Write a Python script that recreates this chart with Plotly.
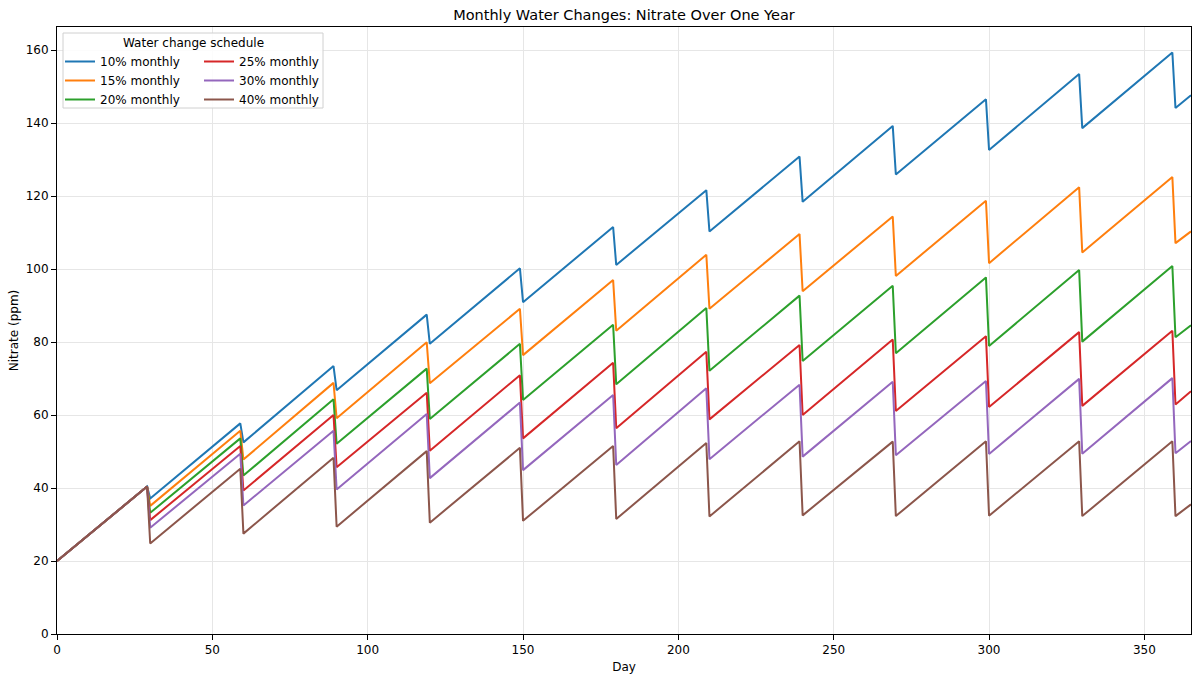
import plotly.graph_objects as go

# ---- Data ----
start_day = 0
start_value = 20.0
peak_days = [29, 59, 89, 119, 149, 179, 209, 239, 269, 299, 329, 359]
change_days = [30, 60, 90, 120, 150, 180, 210, 240, 270, 300, 330, 360]
end_day = 365

series_names = ["10% monthly", "15% monthly", "20% monthly",
                "25% monthly", "30% monthly", "40% monthly"]

peaks_10 = [40.4, 57.7, 73.4, 87.5, 100.2, 111.5, 121.6, 130.8, 139.2, 146.5, 153.4, 159.3]
troughs_10 = [37.1, 52.5, 66.8, 79.5, 90.9, 101.1, 110.3, 118.4, 125.9, 132.6, 138.6, 144.1]
end_10 = 147.6

peaks_15 = [40.4, 55.7, 68.8, 79.9, 89.1, 97.0, 103.9, 109.6, 114.4, 118.7, 122.4, 125.2]
troughs_15 = [35.1, 47.8, 59.1, 68.7, 76.4, 83.1, 89.1, 93.9, 98.1, 101.6, 104.5, 107.1]
end_15 = 110.3

peaks_20 = [40.4, 53.6, 64.3, 72.7, 79.5, 84.7, 89.3, 92.7, 95.4, 97.7, 99.7, 100.8]
troughs_20 = [33.2, 43.4, 52.1, 58.9, 64.1, 68.4, 72.1, 74.8, 76.9, 78.9, 80.1, 81.3]
end_20 = 84.6

peaks_25 = [40.4, 51.5, 60.0, 66.1, 70.9, 74.3, 77.3, 79.2, 80.7, 81.6, 82.7, 83.1]
troughs_25 = [31.2, 39.3, 45.7, 50.2, 53.6, 56.4, 58.8, 60.0, 61.1, 62.2, 62.5, 62.9]
end_25 = 66.5

peaks_30 = [40.4, 49.4, 55.7, 60.3, 63.4, 65.5, 67.3, 68.3, 69.1, 69.3, 69.9, 70.1]
troughs_30 = [29.1, 35.2, 39.6, 42.7, 44.9, 46.3, 47.9, 48.6, 49.0, 49.3, 49.4, 49.5]
end_30 = 52.9

peaks_40 = [40.4, 45.3, 48.3, 50.1, 51.0, 51.5, 52.3, 52.8, 52.7, 52.8, 52.8, 52.8]
troughs_40 = [24.8, 27.5, 29.4, 30.5, 31.0, 31.5, 32.2, 32.5, 32.3, 32.4, 32.3, 32.3]
end_40 = 35.5

x_ticks = [0, 50, 100, 150, 200, 250, 300, 350]
y_ticks = [0, 20, 40, 60, 80, 100, 120, 140, 160]

colors = ["#1f77b4", "#ff7f0e", "#2ca02c", "#d62728", "#9467bd", "#8c564b"]

series = [
    (peaks_10, troughs_10, end_10),
    (peaks_15, troughs_15, end_15),
    (peaks_20, troughs_20, end_20),
    (peaks_25, troughs_25, end_25),
    (peaks_30, troughs_30, end_30),
    (peaks_40, troughs_40, end_40),
]

# ---- Layout geometry (pixels) ----
W, H = 1200, 681
L, R, T, B = 57, 9, 27, 47
PW, PH = W - L - R, H - T - B


def px_x(px):
    return (px - L) / PW


def px_y(py):
    return (H - B - py) / PH


fig = go.Figure()

for i, ((pk, tr, en), name, col) in enumerate(zip(series, series_names, colors)):
    xs = [start_day]
    ys = [start_value]
    for d1, d2, v1, v2 in zip(peak_days, change_days, pk, tr):
        xs += [d1, d2]
        ys += [v1, v2]
    xs.append(end_day)
    ys.append(en)
    fig.add_trace(go.Scatter(
        x=xs, y=ys, mode="lines", name=name,
        line=dict(color=col, width=2),
        legend="legend" if i < 3 else "legend2",
    ))

font_family = "DejaVu Sans, Verdana, sans-serif"

axis_common = dict(
    showline=True, linecolor="#000000", linewidth=1, mirror=True,
    ticks="outside", ticklen=5, tickwidth=1, tickcolor="#000000",
    showgrid=True, gridcolor="#e6e6e6", gridwidth=1,
    zeroline=False, tickfont=dict(size=12, color="#000000", family=font_family),
)

legend_common = dict(
    xanchor="left", yanchor="top", bgcolor="rgba(0,0,0,0)", borderwidth=0,
    font=dict(size=12, color="#000000", family=font_family),
    tracegroupgap=0, itemwidth=30,
)

fig.update_layout(
    width=W, height=H,
    margin=dict(l=L, r=R, t=T, b=B, pad=0),
    paper_bgcolor="white", plot_bgcolor="white",
    font=dict(family=font_family, color="#000000", size=12),
    title=dict(text="Monthly Water Changes: Nitrate Over One Year",
               x=0.5, xref="paper", xanchor="center",
               y=1 - 15 / H, yref="container", yanchor="middle",
               font=dict(size=14.5, color="#000000", family=font_family)),
    xaxis=dict(range=[0, 365], tickvals=x_ticks,
               title=dict(text="Day", standoff=6,
                          font=dict(size=12, color="#000000", family=font_family)),
               **axis_common),
    yaxis=dict(range=[0, 166.3], tickvals=y_ticks,
               title=dict(text="Nitrate (ppm)", standoff=4,
                          font=dict(size=12, color="#000000", family=font_family)),
               **axis_common),
    legend=dict(x=px_x(60), y=px_y(47), **legend_common),
    legend2=dict(x=px_x(199), y=px_y(47), **legend_common),
    showlegend=True,
)

# legend frame and title (matplotlib-style box)
fig.add_shape(type="rect", xref="paper", yref="paper",
              x0=px_x(63), x1=px_x(323), y0=px_y(108), y1=px_y(33),
              line=dict(color="#d0d0d0", width=1),
              fillcolor="rgba(255,255,255,0.85)", layer="above")
fig.add_annotation(text="Water change schedule", xref="paper", yref="paper",
                   x=px_x(193), y=px_y(43), xanchor="center", yanchor="middle",
                   showarrow=False,
                   font=dict(size=12, color="#000000", family=font_family))

fig.write_html("out.html")
